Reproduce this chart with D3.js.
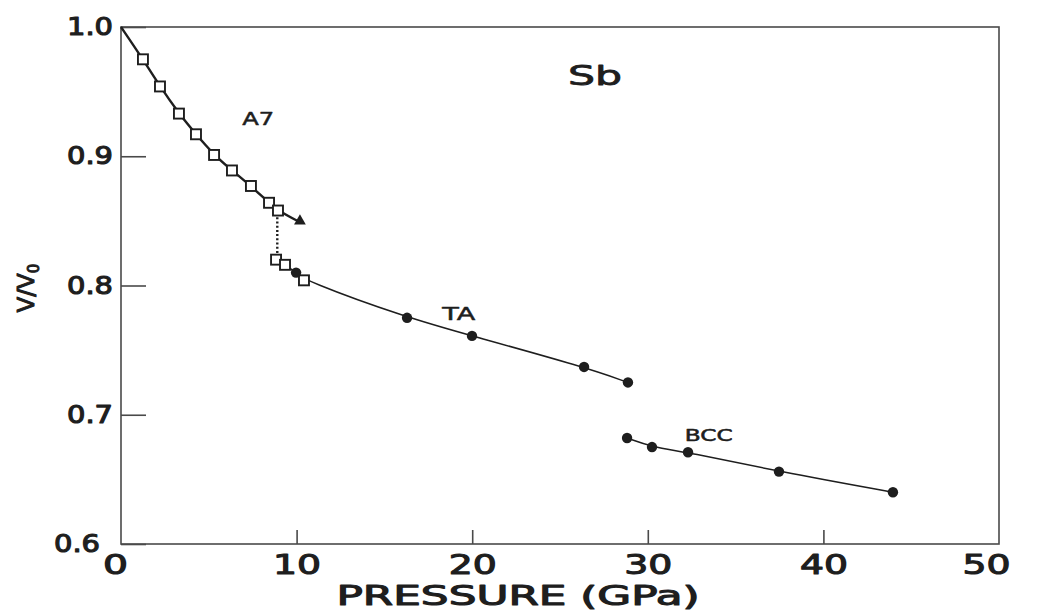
<!DOCTYPE html>
<html>
<head>
<meta charset="utf-8">
<script src="https://cdn.jsdelivr.net/npm/d3@7"></script>
<style>
    body { margin: 0; background: #fff; }
    text { font-family: "DejaVu Sans", sans-serif; fill: #1e1e1e; }
</style>
</head>
<body>
<div class="svgShaper"></div>
<script>
// Sb compression curve: V/V0 against pressure, three phases

// A7 phase, open squares (GPa, V/V0)
var a7P = [1.25, 2.22, 3.30, 4.27, 5.30, 6.32, 7.40, 8.43, 8.94];
var a7V = [0.975, 0.954, 0.933, 0.917, 0.901, 0.889, 0.877, 0.864, 0.858];
// A7 filled triangle
var a7TriP = [10.19];
var a7TriV = [0.849];

// TA phase, open squares just after the transition
var taSqP = [8.83, 9.34, 10.42];
var taSqV = [0.820, 0.816, 0.804];
// TA phase, filled circles
var taP = [9.97, 16.29, 19.99, 26.37, 28.87];
var taV = [0.810, 0.775, 0.761, 0.737, 0.725];

// BCC phase, filled circles
var bccP = [28.82, 30.24, 32.29, 37.47, 43.96];
var bccV = [0.682, 0.675, 0.671, 0.656, 0.640];

// fitted curve starts at ambient pressure
var originP = [0];
var originV = [1.0];

// dotted A7 -> TA transition
var transP = [8.9, 8.9];
var transV = [0.856, 0.822];

// ticks
var xTicks = [0, 10, 20, 30, 40, 50];
var yTicks = [0.6, 0.7, 0.8, 0.9, 1.0];

// phase labels
var phaseNames = ["A7", "TA", "BCC"];
var phaseP = [6.9, 18.3, 32.1];
var phaseV = [0.924, 0.773, 0.680];

var ink = "#1e1e1e";

// graph dimensions
var margin = {top: 27, right: 44, bottom: 66, left: 121},
    width = 1043 - margin.left - margin.right,
    height = 610 - margin.top - margin.bottom;

var svg = d3.select('.svgShaper')
            .append('svg')
            .attr("width", 1043)
            .attr("height", 610);

var g = svg.append("g")
           .attr("transform", "translate(" + margin.left + "," + margin.top + ")");

var x = d3.scaleLinear().domain([0, 50]).range([0, width]);
var y = d3.scaleLinear().domain([0.6, 1.0]).range([height, 0]);

function zip(ps, vs) {
    return ps.map(function(p, i) { return {p: p, v: vs[i]}; });
}

// medium weight look: regular face with a thin outline
function medium(sel, w) {
    sel.attr("stroke", ink).attr("stroke-width", w).attr("stroke-linejoin", "round");
}

// frame
g.append("rect")
 .attr("x", 0).attr("y", 0)
 .attr("width", width).attr("height", height)
 .attr("fill", "none")
 .attr("stroke", "#4a4a4a")
 .attr("stroke-width", 1.6);

// y axis, ticks pointing inward
var yAxis = g.append("g")
    .call(d3.axisLeft(y)
            .tickValues(yTicks)
            .tickSizeInner(-25)
            .tickSizeOuter(0)
            .tickPadding(8)
            .tickFormat(d3.format(".1f")));
yAxis.select(".domain").remove();
yAxis.selectAll(".tick line").attr("stroke", "#4a4a4a").attr("stroke-width", 1.6);
yAxis.selectAll(".tick text")
     .attr("fill", ink)
     .style("font-family", "DejaVu Sans")
     .style("font-size", "24px")
     .attr("textLength", 46)
     .attr("lengthAdjust", "spacingAndGlyphs")
     .attr("x", function(d) { return d === 0.6 ? -21 : -8; })
     .call(medium, 1.1);

// x axis
var xAxis = g.append("g")
    .attr("transform", "translate(0," + height + ")")
    .call(d3.axisBottom(x)
            .tickValues(xTicks)
            .tickSizeInner(-14)
            .tickSizeOuter(0)
            .tickPadding(11));
xAxis.select(".domain").remove();
xAxis.selectAll(".tick line")
     .attr("stroke", "#4a4a4a").attr("stroke-width", 1.6)
     .attr("display", function(d) { return (d === 0 || d === 50) ? "none" : null; });
xAxis.selectAll(".tick text")
     .attr("fill", ink)
     .style("font-family", "DejaVu Sans")
     .style("font-size", "27px")
     .attr("textLength", function(d) { return d === 0 ? 25 : 48; })
     .attr("lengthAdjust", "spacingAndGlyphs")
     .attr("x", function(d) { return d === 0 ? -6 : (d === 50 ? -13 : 0); })
     .call(medium, 1.1);

// axis titles
svg.append("text")
   .attr("x", 518).attr("y", 605)
   .attr("text-anchor", "middle")
   .style("font-size", "27px")
   .attr("textLength", 363)
   .attr("lengthAdjust", "spacingAndGlyphs")
   .text("PRESSURE (GPa)")
   .call(medium, 1.1);

var yTitle = svg.append("text")
   .attr("transform", "translate(34,288) rotate(-90)")
   .attr("text-anchor", "middle")
   .style("font-size", "23px")
   .call(medium, 1);
yTitle.append("tspan").text("V/V");
yTitle.append("tspan").attr("dy", 5).style("font-size", "15px").text("0");

// fitted lines
var line = d3.line()
             .x(function(d) { return x(d.p); })
             .y(function(d) { return y(d.v); })
             .curve(d3.curveBasis);

var a7Fit = zip(originP, originV).concat(zip(a7P, a7V), zip(a7TriP, a7TriV));
var taFit = zip(taSqP, taSqV).concat(zip(taP, taV))
                .sort(function(a, b) { return a.p - b.p; });
var bccFit = zip(bccP, bccV);

g.append("path").attr("d", line(a7Fit))
 .attr("fill", "none").attr("stroke", ink).attr("stroke-width", 2.4);
g.append("path").attr("d", line(taFit))
 .attr("fill", "none").attr("stroke", ink).attr("stroke-width", 1.5);
g.append("path").attr("d", line(bccFit))
 .attr("fill", "none").attr("stroke", ink).attr("stroke-width", 1.5);

// dotted transition
g.append("path").attr("d", d3.line()
                  .x(function(d) { return x(d.p); })
                  .y(function(d) { return y(d.v); })(zip(transP, transV)))
 .attr("stroke", ink).attr("stroke-width", 2.4)
 .attr("stroke-dasharray", "2,2.2");

// open squares
g.selectAll(".sq")
 .data(zip(a7P, a7V).concat(zip(taSqP, taSqV)))
 .enter().append("rect")
 .attr("class", "sq")
 .attr("x", function(d) { return x(d.p) - 5; })
 .attr("y", function(d) { return y(d.v) - 5; })
 .attr("width", 10).attr("height", 10)
 .attr("fill", "#fff").attr("stroke", ink).attr("stroke-width", 1.9);

// filled circles
g.selectAll(".dot")
 .data(zip(taP, taV).concat(zip(bccP, bccV)))
 .enter().append("circle")
 .attr("class", "dot")
 .attr("cx", function(d) { return x(d.p); })
 .attr("cy", function(d) { return y(d.v); })
 .attr("r", 5.2)
 .attr("fill", ink);

// filled triangle
g.selectAll(".tri")
 .data(zip(a7TriP, a7TriV))
 .enter().append("path")
 .attr("class", "tri")
 .attr("transform", function(d) { return "translate(" + x(d.p) + "," + (y(d.v) - 1) + ")"; })
 .attr("d", d3.symbol().type(d3.symbolTriangle).size(60))
 .attr("fill", ink);

// labels
var labelSize = [17, 18, 15];
var labelLen = [32, 33, 48];
g.selectAll(".phase")
 .data(phaseNames)
 .enter().append("text")
 .attr("class", "phase")
 .attr("x", function(d, i) { return x(phaseP[i]); })
 .attr("y", function(d, i) { return y(phaseV[i]); })
 .style("font-size", function(d, i) { return labelSize[i] + "px"; })
 .attr("textLength", function(d, i) { return labelLen[i]; })
 .attr("lengthAdjust", "spacingAndGlyphs")
 .text(function(d) { return d; })
 .call(medium, 0.5);

svg.append("text")
   .attr("x", 568).attr("y", 85)
   .style("font-size", "26px")
   .attr("textLength", 54)
   .attr("lengthAdjust", "spacingAndGlyphs")
   .text("Sb")
   .call(medium, 0.8);
</script>
</body>
</html>
